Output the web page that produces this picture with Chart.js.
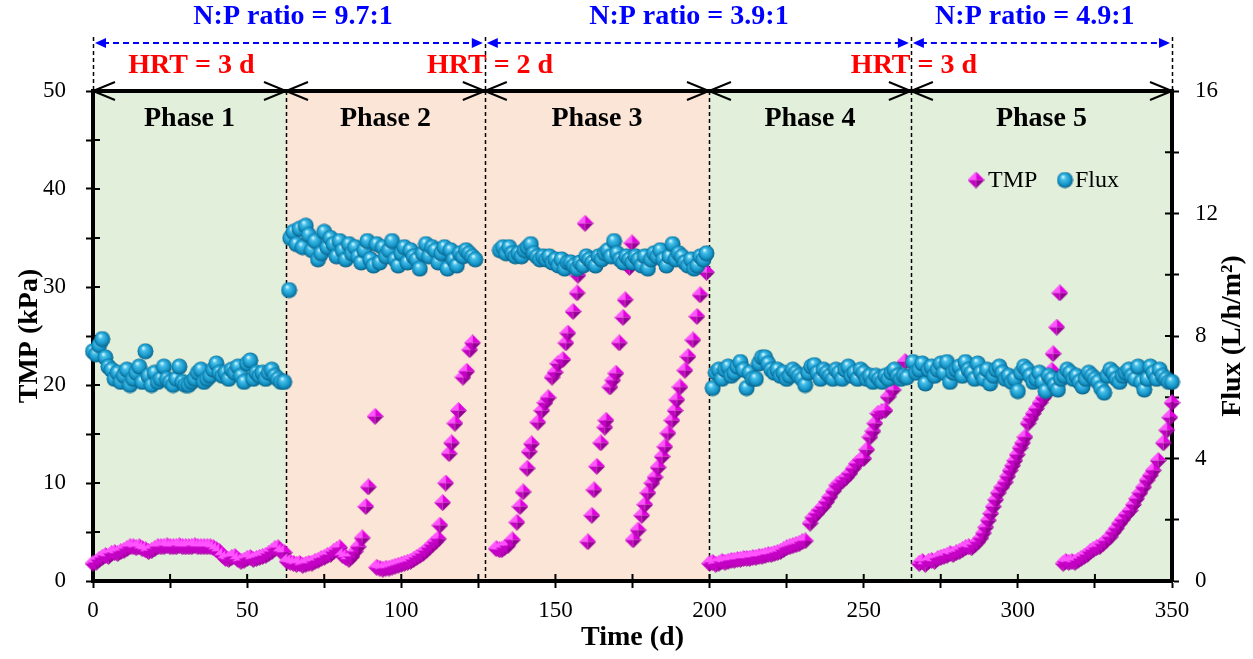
<!DOCTYPE html>
<html>
<head>
<meta charset="utf-8">
<script src="https://cdn.jsdelivr.net/npm/chart.js@4.4.1/dist/chart.umd.min.js"></script>
<style>
  html, body { margin: 0; padding: 0; background: #fff; }
  #wrap { width: 1253px; height: 659px; }
</style>
</head>
<body>
<div id="wrap"><canvas id="myChart" width="1253" height="659"></canvas></div>
<script>
// ---- data ----
var phaseBounds = [0, 62.6, 127.1, 199.8, 265.3, 350];
var phaseNames = ['Phase 1', 'Phase 2', 'Phase 3', 'Phase 4', 'Phase 5'];
var phaseColors = ['#e2efda', '#fbe5d6', '#fbe5d6', '#e2efda', '#e2efda'];
var npBounds = [0, 127.1, 265.3, 350];
var npLabels = ['N:P ratio = 9.7:1', 'N:P ratio = 3.9:1', 'N:P ratio = 4.9:1'];
var npCenters = [64.9, 193.3, 305.5];
var hrtLabels = ['HRT = 3 d', 'HRT = 2 d', 'HRT = 3 d'];
var hrtCenters = [31.9, 128.8, 266.3];

// phase 1 (TMP and flux share the days)
var p1Day = [0,1,2,3,4,5,6,7,8,9,10,11,12,13,14,15,16,17,18,19,20,21,22,23,24,25,26,27,28,29,30,31,32,33,34,35,36,37,38,39,40,41,42,43,44,45,46,47,48,49,50,51,52,53,54,55,56,57,58,59,60,61,62];
var p1Tmp = [1.8,1.9,2.2,2.4,2.6,2.5,2.8,2.9,2.8,3.0, 3.1,3.3,3.5,3.5,3.4,3.5,3.3,3.2,3.0,3.1, 3.3,3.5,3.5,3.5,3.6,3.5,3.5,3.5,3.6,3.5, 3.5,3.5,3.5,3.6,3.5,3.5,3.5,3.5,3.5,3.4, 3.2,3.0,2.6,2.3,2.2,2.4,2.5,2.2,2.0,2.1, 2.3,2.4,2.2,2.3,2.4,2.5,2.6,2.8,3.0,3.3, 3.4,3.0,2.9];
var p1Flux = [7.5,7.4,7.7,7.9,7.3,7.0,6.9,6.6,6.8,6.5, 6.7,6.9,6.4,6.6,6.8,7.0,6.5,7.5,6.7,6.4, 6.8,6.5,6.6,7.0,6.6,6.5,6.4,6.6,7.0,6.5, 6.4,6.4,6.5,6.6,6.8,6.9,6.5,6.6,6.7,6.9, 7.1,6.8,6.7,6.8,6.6,6.9,6.8,7.0,6.7,6.5, 7.1,7.2,6.6,6.8,6.7,6.8,6.6,6.8,6.9,6.7, 6.6,6.5,6.5];

// phase 2
var p2TmpDay = [63,64,65,66,67,68,69,70,71,72,73,74,75,76,77,78,79,80,81,82,83,84,85,86,87.3,88.5,89.3,91.5,92,93,94,95,96,97,98,99,100,101,102,103,104,105,106,107,108,109,110,111,112,112.5,113.4,114.4,115.5,116.3,117.4,118.5,120,121.2,122.2,123.1];
var p2Tmp = [2.0,1.9,1.8,1.7,1.8,1.6,1.7,1.8,1.8,2.0, 2.1,2.3,2.4,2.6,2.7,3.0,3.2,3.4,2.6,2.4, 2.2,2.5,3.0,3.5,4.4,7.6,9.6,16.8, 1.4,1.3,1.2,1.3,1.3,1.4,1.5,1.6,1.7,1.8, 1.9,2.0,2.2,2.4,2.6,2.8,3.1,3.4,3.7,4.0, 4.3,5.7,8.0,10.0,13.0,14.1,16.1,17.4,20.8,21.4,23.6,24.3];
var p2FluxDay = [63.6,64,65,66,67,68,69,70,71,72,73,74,75,76,77,78,79,80,81,82,83,84,85,86,87,88,89,90,91,92,93,94,95,96,97,98,99,100,101,102,103,104,105,106,107,108,109,110,111,112,113,114,115,116,117,118,119,120,121,122,123,124];
var p2Flux = [9.5, 11.2,11.4,11.0,11.5,10.9,11.6,11.3,10.8,11.1,10.5, 10.7,11.4,10.9,11.2,11.0,10.6,11.1,10.8,10.5,11.0, 10.7,10.9,10.6,10.4,10.8,11.1,10.5,10.3,11.0,10.4, 10.9,10.6,10.8,11.1,10.5,10.3,10.7,10.9,10.4,10.8, 10.6,10.5,10.2,10.7,11.0,10.6,10.9,10.8,10.4,10.7, 10.9,10.2,10.8,10.5,10.3,10.7,10.6,10.8,10.7,10.6, 10.5];

// phase 3
var p3TmpDay = [130.8,131.8,132.6,133.4,134.5,136,137.5,138.5,139.5,140.8,141.5,142.2,144.3,145.6,146.6,147.6,148.9,149.9,150.8,152.4,153.4,154,155.7,157,157.3,159.6,
  160.5,161.8,162.5,163.4,164.7,166,166.4,167.7,168.6,169.6,170.7,171.9,172.6,174,174.8,
  175.2,176.8,178,179,180,181.3,182.3,183.3,184.6,185.5,186.5,187.8,188.8,189.4,190.4,192,193,194.6,195.9,196.9,199];
var p3Tmp = [3.3,3.2,3.2,3.4,3.6,4.2,6.0,7.6,9.1,11.5,13.2,14.0,16.2,17.4,18.2,18.7,20.8,21.3,22.2,22.6,24.3,25.3,27.5,29.4,31.2,36.5,
  4.0,6.7,9.3,11.7,14.1,15.7,16.4,19.8,20.5,21.2,24.3,26.9,28.7,32.0,34.5,
  4.2,5.2,6.7,7.8,9.0,10.0,10.6,11.6,12.7,13.7,15.1,16.4,17.4,18.5,19.8,21.5,22.9,24.6,27.0,29.2,31.5];
var p3FluxDay = [132,133,134,135,136,137,138,139,140,141,142,143,144,145,146,147,148,149,150,151,152,153,154,155,156,157,158,159,160,161,162,163,164,165,166,167,168,169,170,171,172,173,174,175,176,177,178,179,180,181,182,183,184,185,186,187,188,189,190,191,192,193,194,195,196,197,198,199];
var p3Flux = [10.8,10.9,10.7,10.9,10.7,10.6,10.7, 10.6,10.8,10.9,11.0,10.7,10.6,10.5,10.6,10.5,10.6, 10.4,10.5,10.3,10.5,10.2,10.4,10.4,10.3,10.2,10.4, 10.3,10.6,10.5,10.4,10.3,10.6,10.5,10.7,10.8,10.6, 11.1,10.7,10.5,10.4,10.6,10.5,10.4,10.6,10.5,10.3, 10.6,10.2,10.5,10.7,10.6,10.8,10.5,10.3,10.6,11.0, 10.5,10.7,10.6,10.4,10.3,10.5,10.2,10.3,10.6,10.5, 10.7];

// phase 4
var p4TmpDay = [200,201,202,203,204,205,206,207,208,209,210,211,212,213,214,215,216,217,218,219,220,221,222,223,224,225,226,227,228,229,230,231,
  232.6,233.5,234.8,235.8,236.8,238,239,240.2,241.3,242.3,243.3,244.4,245.5,246.6,247.7,249,250,251,252,253,253.6,254.6,255.8,256.9,257.9,259.5,263.4];
var p4Tmp = [1.8,1.9,1.7,1.8,2.0,1.9,2.0,2.1,2.1,2.2, 2.2,2.3,2.3,2.3,2.4,2.4,2.5,2.5,2.6,2.7, 2.7,2.8,2.9,3.0,3.2,3.4,3.5,3.6,3.7,3.8, 4.0,4.1,
  5.9,6.5,6.9,7.3,7.6,8.1,8.6,9.2,9.8,10.0,10.3,10.6,11.0,11.5,12.0,12.4,12.5,13.4,14.7,15.3,16.1,17.1,17.3,17.4,18.8,19.5,22.4];
var p4FluxDay = [201,202,203,204,205,206,207,208,209,210,211,212,213,214,215,216,217,218,219,220,221,222,223,224,225,226,227,228,229,230,231,232,233,234,235,236,237,238,239,240,241,242,243,244,245,246,247,248,249,250,251,252,253,254,255,256,257,258,259,260,261,262,263,264];
var p4Flux = [6.3,6.8,6.9,6.6,6.9,7.0,6.7,6.8,7.0,7.15, 6.9,6.3,6.8,6.6,6.6,7.1,7.3,7.3,7.1,6.9, 6.8,6.9,6.7,6.8,6.6,6.7,6.9,6.8,6.7,6.6, 6.4,6.8,7.0,7.05,6.8,6.6,6.9,6.8,6.7,6.6, 6.9,6.8,6.6,6.9,7.0,6.7,6.8,6.6,6.9,6.8, 6.6,6.7,6.5,6.7,6.6,6.5,6.7,6.6,6.8,6.9, 6.7,6.6,6.7,6.65];

// phase 5
var p5TmpDay = [268,269,270,271,272,273,274,275,276,277,278,279,280,281,282,283,284,285,286,287,288,
  288.8,289.6,290.4,291.2,292,292.8,293.6,294.8,295.9,296.7,297.5,298.3,299,299.8,300.7,301.5,302.3,303.3,304.2,305,306,307.2,308.3,309.5,310.3,311,311.4,312.6,313.6,
  314.7,315.5,316.5,317.5,318.5,319.5,320.5,321.5,322.5,323.5,324.4,325.5,326.5,327.5,328.5,329.9,331,332,333,334,335.2,336.4,337.5,338.5,339.6,340.8,341.9,343,343.9,345.5,347.2,348.3,349.3,350];
var p5Tmp = [1.8,2.0,1.7,2.0,2.1,2.0,2.3,2.4,2.5,2.6, 2.8,2.7,2.9,3.0,3.2,3.4,3.5,3.4,3.7,4.0, 4.4,
  4.9,5.5,6.2,6.9,7.6,8.3,9.0,9.6,10.1,10.7, 11.3,11.8,12.3,12.9,13.6,14.1,14.7,16.1,16.6,17.1, 17.6,18.2,18.7,19.2,20.0,21.5,23.2,25.9,29.4,
  1.8,2.0,1.9,2.0,1.9,2.1,2.3,2.5,2.7,3.0, 3.2,3.4,3.5,3.8,4.1,4.5,5.0,5.4,5.9,6.3, 6.8,7.2,7.8,8.4,9.0,9.6,10.3,10.8,11.3,12.3, 14.1,15.4,16.7,18.2];
var p5FluxDay = [266,267,268,269,270,271,272,273,274,275,276,277,278,279,280,281,282,283,284,285,286,287,288,289,290,291,292,293,294,295,296,297,298,299,300,301,302,303,304,305,306,307,308,309,310,311,312,313,314,315,316,317,318,319,320,321,322,323,324,325,326,327,328,329,330,331,332,333,334,335,336,337,338,339,340,341,342,343,344,345,346,347,348,349,350];
var p5Flux = [7.15,6.8,6.9,7.1,6.45,6.9,7.0,6.7,6.9,7.1, 6.8,7.15,6.5,6.8,6.9,7.0,6.7,7.15,6.9,6.8, 6.6,7.1,6.8,6.6,6.9,6.45,6.7,6.9,7.0,6.8, 6.6,6.7,6.5,6.6,6.2,6.8,7.0,6.9,6.7,6.5, 6.6,6.8,6.5,6.2,6.7,6.6,6.4,6.25,6.6,6.7, 6.9,6.8,6.6,6.7,6.5,6.35,6.6,6.8,6.7,6.6, 6.5,6.3,6.15,6.7,6.9,6.8,6.6,6.5,6.7,6.8, 6.9,6.7,6.6,7.0,6.5,6.25,6.6,7.0,6.8,6.6, 6.9,6.7,6.6,6.5,6.5];

var F = "'Liberation Serif','Times New Roman',serif";

function pairs(xs, ys) {
  return xs.map(function (x, i) { return { x: x, y: ys[i] }; });
}
var tmpData = [].concat(pairs(p1Day, p1Tmp), pairs(p2TmpDay, p2Tmp), pairs(p3TmpDay, p3Tmp), pairs(p4TmpDay, p4Tmp), pairs(p5TmpDay, p5Tmp));
var fluxData = [].concat(pairs(p1Day, p1Flux), pairs(p2FluxDay, p2Flux), pairs(p3FluxDay, p3Flux), pairs(p4FluxDay, p4Flux), pairs(p5FluxDay, p5Flux));

// shaded marker images
function makeSphere(d) {
  var c = document.createElement('canvas');
  c.width = d; c.height = d;
  var g = c.getContext('2d');
  var r = d / 2;
  var grad = g.createRadialGradient(r * 0.75, r * 0.6, r * 0.05, r, r, r);
  grad.addColorStop(0, '#d6f6ff');
  grad.addColorStop(0.25, '#45bfea');
  grad.addColorStop(0.7, '#1493c6');
  grad.addColorStop(1, '#08587c');
  g.fillStyle = grad;
  g.beginPath();
  g.arc(r, r, r - 0.5, 0, Math.PI * 2);
  g.fill();
  return c;
}
function makeDiamond(w, h) {
  var c = document.createElement('canvas');
  c.width = w; c.height = h;
  var g = c.getContext('2d');
  var cx = w / 2, cy = h / 2;
  var faces = [
    [[cx, 0], [0, cy], '#ff55ff'],
    [[cx, 0], [w, cy], '#e000e0'],
    [[0, cy], [cx, h], '#c300c3'],
    [[w, cy], [cx, h], '#960096']
  ];
  faces.forEach(function (f) {
    g.fillStyle = f[2];
    g.beginPath();
    g.moveTo(cx, cy); g.lineTo(f[0][0], f[0][1]); g.lineTo(f[1][0], f[1][1]);
    g.closePath(); g.fill();
  });
  return c;
}
var sphere = makeSphere(17);
var diamond = makeDiamond(17, 17);

// short ticks pointing into the plot, taken from the scales' own tick list
function innerTicks(ctx, scale, a, horizontal) {
  scale.ticks.forEach(function (t) {
    var p = scale.getPixelForValue(t.value);
    ctx.beginPath();
    if (horizontal) { ctx.moveTo(p, a.bottom); ctx.lineTo(p, a.bottom - 7); }
    else if (scale.position === 'left') { ctx.moveTo(a.left, p); ctx.lineTo(a.left + 7, p); }
    else { ctx.moveTo(a.right, p); ctx.lineTo(a.right - 7, p); }
    ctx.stroke();
  });
}

var decor = {
  id: 'decor',
  beforeDraw: function (chart) {
    var ctx = chart.ctx, a = chart.chartArea, x = chart.scales.x;
    ctx.save();
    for (var i = 0; i < phaseNames.length; i++) {
      var x0 = x.getPixelForValue(phaseBounds[i]), x1 = x.getPixelForValue(phaseBounds[i + 1]);
      ctx.fillStyle = phaseColors[i];
      ctx.fillRect(x0, a.top, x1 - x0, a.bottom - a.top);
    }
    ctx.restore();
  },
  beforeDatasetsDraw: function (chart) {
    var ctx = chart.ctx, a = chart.chartArea, x = chart.scales.x;
    ctx.save();
    ctx.strokeStyle = '#000';
    ctx.lineWidth = 1.5;
    ctx.setLineDash([4, 3]);
    for (var i = 1; i < phaseBounds.length - 1; i++) {
      var px = Math.round(x.getPixelForValue(phaseBounds[i])) + 0.5;
      ctx.beginPath(); ctx.moveTo(px, a.top); ctx.lineTo(px, a.bottom); ctx.stroke();
    }
    ctx.setLineDash([]);
    ctx.lineWidth = 2;
    innerTicks(ctx, chart.scales.x, a, true);
    innerTicks(ctx, chart.scales.y, a, false);
    innerTicks(ctx, chart.scales.y2, a, false);
    ctx.fillStyle = '#000';
    ctx.font = 'bold 28px ' + F;
    ctx.textAlign = 'center';
    ctx.textBaseline = 'middle';
    for (var j = 0; j < phaseNames.length; j++) {
      var cx = x.getPixelForValue((phaseBounds[j] + phaseBounds[j + 1]) / 2);
      ctx.fillText(phaseNames[j], cx, a.top + 28);
    }
    ctx.restore();
  },
  afterDraw: function (chart) {
    var ctx = chart.ctx, a = chart.chartArea, x = chart.scales.x;
    ctx.save();
    // thick phase bar along the top edge
    ctx.strokeStyle = '#000';
    ctx.lineWidth = 4;
    ctx.beginPath(); ctx.moveTo(a.left - 2, a.top); ctx.lineTo(a.right + 2, a.top); ctx.stroke();
    ctx.lineWidth = 2;
    for (var i = 0; i < phaseBounds.length; i++) {
      var b = x.getPixelForValue(phaseBounds[i]);
      if (i > 0) {
        ctx.beginPath(); ctx.moveTo(b - 22, a.top - 9); ctx.lineTo(b, a.top); ctx.lineTo(b - 22, a.top + 9); ctx.stroke();
      }
      if (i < phaseBounds.length - 1) {
        ctx.beginPath(); ctx.moveTo(b + 22, a.top - 9); ctx.lineTo(b, a.top); ctx.lineTo(b + 22, a.top + 9); ctx.stroke();
      }
    }
    // dashed verticals above the plot
    ctx.lineWidth = 1.5;
    ctx.setLineDash([4, 3]);
    for (var k = 0; k < npBounds.length; k++) {
      var vx = Math.round(x.getPixelForValue(npBounds[k])) + 0.5;
      ctx.beginPath(); ctx.moveTo(vx, 37); ctx.lineTo(vx, a.top); ctx.stroke();
    }
    // blue N:P arrows
    var ay = 43;
    ctx.strokeStyle = '#0000ff';
    ctx.fillStyle = '#0000ff';
    for (var n = 0; n < npLabels.length; n++) {
      var s = x.getPixelForValue(npBounds[n]) + 2, e = x.getPixelForValue(npBounds[n + 1]) - 2;
      ctx.setLineDash([6, 4]);
      ctx.lineWidth = 2;
      ctx.beginPath(); ctx.moveTo(s + 8, ay); ctx.lineTo(e - 8, ay); ctx.stroke();
      ctx.setLineDash([]);
      ctx.beginPath(); ctx.moveTo(s, ay); ctx.lineTo(s + 11, ay - 5); ctx.lineTo(s + 11, ay + 5); ctx.closePath(); ctx.fill();
      ctx.beginPath(); ctx.moveTo(e, ay); ctx.lineTo(e - 11, ay - 5); ctx.lineTo(e - 11, ay + 5); ctx.closePath(); ctx.fill();
      ctx.font = 'bold 28px ' + F;
      ctx.textAlign = 'center';
      ctx.textBaseline = 'middle';
      ctx.fillText(npLabels[n], x.getPixelForValue(npCenters[n]), 17);
    }
    // red HRT labels
    ctx.fillStyle = '#ff0000';
    for (var h = 0; h < hrtLabels.length; h++) {
      ctx.fillText(hrtLabels[h], x.getPixelForValue(hrtCenters[h]), 66);
    }
    // right axis title, reading bottom to top
    ctx.fillStyle = '#000';
    ctx.translate(1233, (a.top + a.bottom) / 2);
    ctx.rotate(-Math.PI / 2);
    ctx.fillText('Flux (L/h/m\u00b2)', 0, 0);
    ctx.restore();
    // legend
    ctx.save();
    ctx.drawImage(diamond, 976 - 8.5, 180 - 8.5);
    ctx.drawImage(sphere, 1065 - 8.5, 180 - 8.5);
    ctx.fillStyle = '#000';
    ctx.font = '24px ' + F;
    ctx.textAlign = 'left';
    ctx.textBaseline = 'middle';
    ctx.fillText('TMP', 988, 181);
    ctx.fillText('Flux', 1075, 181);
    ctx.restore();
  }
};

var axisGrid = { drawOnChartArea: false, tickLength: 7, tickColor: '#000', tickWidth: 2 };
var axisBorder = { color: '#000', width: 4 };

new Chart('myChart', {
  type: 'scatter',
  data: {
    datasets: [
      { label: 'Flux', data: fluxData, yAxisID: 'y2', pointStyle: sphere, pointRadius: 8, order: 0, clip: false, showLine: false },
      { label: 'TMP', data: tmpData, yAxisID: 'y', pointStyle: diamond, pointRadius: 8, order: 1, clip: false, showLine: false }
    ]
  },
  options: {
    responsive: false,
    animation: false,
    layout: { padding: { top: 91, left: 0, right: 0, bottom: 0 } },
    plugins: { legend: { display: false }, tooltip: { enabled: false } },
    scales: {
      x: {
        type: 'linear', min: 0, max: 350,
        afterFit: function (s) { s.height = 78; },
        border: axisBorder, grid: axisGrid,
        ticks: { stepSize: 25, autoSkip: false, maxRotation: 0, padding: 9, color: '#000', font: { family: F, size: 23 },
          callback: function (v) { return v % 50 === 0 ? v : ''; } },
        title: { display: true, text: 'Time (d)', color: '#000', font: { family: F, size: 28, weight: 'bold' }, padding: { top: 0, bottom: 4 } }
      },
      y: {
        position: 'left', min: 0, max: 50,
        afterFit: function (s) { s.width = 93; },
        border: axisBorder, grid: axisGrid,
        ticks: { stepSize: 5, autoSkip: false, padding: 20, color: '#000', font: { family: F, size: 23 },
          callback: function (v) { return v % 10 === 0 ? v : ''; } },
        title: { display: true, text: 'TMP (kPa)', color: '#000', font: { family: F, size: 28, weight: 'bold' }, padding: { top: 13, bottom: 0 } }
      },
      y2: {
        position: 'right', min: 0, max: 16,
        afterFit: function (s) { s.width = 81; },
        border: axisBorder, grid: axisGrid,
        ticks: { stepSize: 2, autoSkip: false, padding: 16, color: '#000', font: { family: F, size: 23 },
          callback: function (v) { return v % 4 === 0 ? v : ''; } }
      }
    }
  },
  plugins: [decor]
});
</script>
</body>
</html>
